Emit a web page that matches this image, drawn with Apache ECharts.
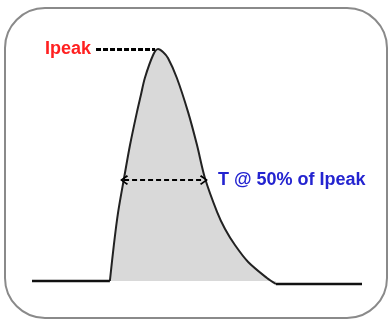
<!DOCTYPE html>
<html>
<head>
<meta charset="utf-8">
<script src="https://cdn.jsdelivr.net/npm/echarts@6/dist/echarts.min.js"></script>
<style>
  html, body { margin: 0; padding: 0; background: #fff; }
  #chart { width: 389px; height: 320px; }
</style>
</head>
<body>
<div id="chart"></div>
<script>
// pulse shape, time in arbitrary units, current as fraction of Ipeak
const pulseTime = [23.6, 24.8, 26.1, 27.9, 29.7, 31.8, 33.0, 34.2, 36.7, 38.2, 39.7, 41.2, 43.9, 47.3, 50.0, 52.4, 56.1, 58.5, 61.5, 65.5, 71.2, 73.9];
const pulseCurrent = [0, 0.155, 0.297, 0.444, 0.586, 0.728, 0.802, 0.875, 0.974, 1, 0.987, 0.961, 0.875, 0.728, 0.586, 0.444, 0.297, 0.224, 0.155, 0.082, 0.013, -0.013];

// flat baseline before and after the pulse
const preTime = [0, 23.6];
const preCurrent = [0, 0];
const postTime = [73.9, 100];
const postCurrent = [-0.013, -0.013];

// annotations
const peakLevel = 1;
const peakLabelFrom = 19.4;
const peakTime = 37.3;
const halfLevel = 0.435;
const halfFrom = 27.9;
const halfTo = 52.1;

const chevron = 'path://M5,0 L10,8 L8.6,9.4 L5,3 L1.4,9.4 L0,8 Z';

const chart = echarts.init(document.getElementById('chart'));

const pairs = (xs, ys) => xs.map((x, i) => [x, ys[i]]);

chart.setOption({
    animation: false,
    grid: { left: 32, right: 27, top: 49, bottom: 15.8 },
    xAxis: { type: 'value', min: 0, max: 100, show: false },
    yAxis: { type: 'value', min: -0.1, max: 1, show: false },
    graphic: [
        {
            type: 'rect',
            shape: { x: 5, y: 8, width: 382, height: 310, r: 40 },
            style: { fill: 'none', stroke: '#8a8a8a', lineWidth: 2 },
            z: -1
        }
    ],
    series: [
        {
            type: 'line',
            data: pairs(pulseTime, pulseCurrent),
            smooth: 0.3,
            symbol: 'none',
            clip: false,
            lineStyle: { color: '#222', width: 2 },
            areaStyle: { color: '#d9d9d9', opacity: 1 },
            markLine: {
                silent: true,
                symbol: ['none', 'none'],
                data: [
                    [
                        { coord: [peakLabelFrom, peakLevel] },
                        { coord: [peakTime, peakLevel] }
                    ]
                ],
                lineStyle: { color: '#000', width: 3, type: [5, 2] },
                label: {
                    position: 'start',
                    formatter: 'Ipeak',
                    color: '#ff2020',
                    fontFamily: 'Liberation Sans',
                    fontWeight: 'bold',
                    fontSize: 18,
                    distance: 5
                }
            }
        },
        {
            type: 'line',
            data: pairs(preTime, preCurrent),
            symbol: 'none',
            clip: false,
            lineStyle: { color: '#111', width: 2.5 }
        },
        {
            type: 'line',
            data: pairs(postTime, postCurrent),
            symbol: 'none',
            clip: false,
            lineStyle: { color: '#111', width: 2.5 },
            markLine: {
                silent: true,
                symbol: [chevron, chevron],
                symbolSize: [10, 8],
                data: [
                    [
                        { coord: [halfFrom, halfLevel] },
                        { coord: [halfTo, halfLevel] }
                    ]
                ],
                lineStyle: { color: '#000', width: 2, type: [5, 3] },
                label: {
                    position: 'end',
                    formatter: 'T @ 50% of Ipeak',
                    color: '#2424d0',
                    fontFamily: 'Liberation Sans',
                    fontWeight: 'bold',
                    fontSize: 18,
                    distance: 14
                }
            }
        }
    ]
});
</script>
</body>
</html>
